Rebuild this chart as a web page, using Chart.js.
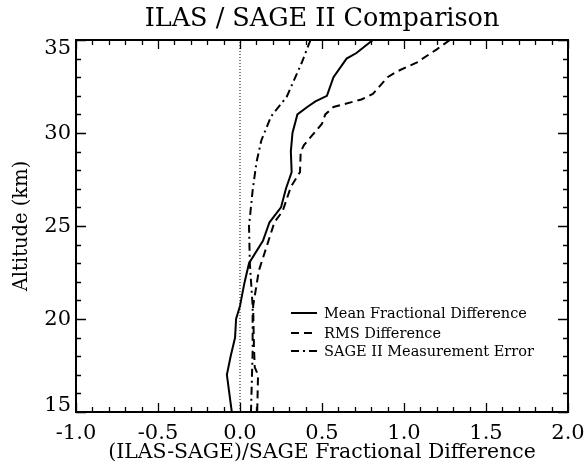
<!DOCTYPE html>
<html>
<head>
<meta charset="utf-8">
<script src="https://cdn.jsdelivr.net/npm/chart.js@4/dist/chart.umd.min.js"></script>
<style>
  body { margin: 0; background: #fff; }
  #wrap { width: 587px; height: 465px; }
</style>
</head>
<body>
<div id="wrap"><canvas id="canvasComparaison"></canvas></div>
<script>
// valeurs (altitude en km, difference fractionnelle)
const meanAlt = [35, 34.3, 34.0, 33.0, 32.0, 31.7, 31.4, 31.0, 30.0, 29.0, 27.9, 27.0, 26.0, 25.2, 24.2, 23.0, 21.9, 20.7, 20.0, 19.0, 18.0, 17.0, 15.0]
const meanDiff = [0.81, 0.71, 0.65, 0.57, 0.53, 0.46, 0.41, 0.35, 0.32, 0.31, 0.315, 0.28, 0.25, 0.18, 0.14, 0.055, 0.026, 0.0, -0.024, -0.03, -0.057, -0.08, -0.05]

const rmsAlt = [35, 34.5, 33.8, 33.3, 33.0, 32.1, 31.8, 31.4, 31.0, 30.5, 29.35, 29.0, 27.9, 27.1, 25.8, 25.2, 22.6, 20.7, 18.5, 17.4, 17.0, 15.0]
const rmsDiff = [1.28, 1.2, 1.08, 0.955, 0.90, 0.81, 0.74, 0.57, 0.52, 0.50, 0.39, 0.37, 0.366, 0.31, 0.26, 0.21, 0.115, 0.08, 0.085, 0.09, 0.11, 0.105]

const errAlt = [35, 33.75, 31.95, 30.9, 29.6, 28.4, 26.9, 25.0, 23.0, 20.7, 18.2, 15.0]
const errSage = [0.43, 0.375, 0.285, 0.19, 0.13, 0.10, 0.077, 0.055, 0.06, 0.077, 0.077, 0.067]

const zeroAlt = [15, 35]
const zeroDiff = [0, 0]

const legendLabels = ["Mean Fractional Difference", "RMS Difference", "SAGE II Measurement Error"]
const yTickLabels = [15, 20, 25, 30, 35]

const serif = "'DejaVu Serif', 'Liberation Serif', serif"

function points(alts, vals) {
    return alts.map((a, i) => ({x: vals[i], y: a}))
}

const styles = [
    {dash: [], width: 2},
    {dash: [8, 5], width: 2},
    {dash: [8, 4, 2, 4], width: 2},
]

// cadre, graduations, labels y et legende
const decorPlugin = {
    id: "decor",
    afterDraw(chart) {
        const ctx = chart.ctx
        const area = chart.chartArea
        const xs = chart.scales.x
        const ys = chart.scales.y
        ctx.save()
        ctx.strokeStyle = "#000"
        ctx.fillStyle = "#000"
        ctx.setLineDash([])

        // graduations x
        ctx.lineWidth = 1.3
        ctx.beginPath()
        for (let i = 0; i <= 30; i++) {
            let v = -1 + i * 0.1
            let px = Math.round(xs.getPixelForValue(v)) + 0.5
            let len = (i % 5 === 0) ? 9 : 5
            ctx.moveTo(px, area.bottom); ctx.lineTo(px, area.bottom - len)
            ctx.moveTo(px, area.top); ctx.lineTo(px, area.top + len)
        }
        // graduations y
        for (let a = 15; a <= 35; a++) {
            let py = Math.round(ys.getPixelForValue(a)) + 0.5
            let len = (a % 5 === 0) ? 10 : 5
            ctx.moveTo(area.left, py); ctx.lineTo(area.left + len, py)
            ctx.moveTo(area.right, py); ctx.lineTo(area.right - len, py)
        }
        ctx.stroke()

        // cadre
        ctx.lineWidth = 2
        ctx.strokeRect(area.left, area.top, area.right - area.left, area.bottom - area.top)

        // labels y
        ctx.font = "21px " + serif
        ctx.textAlign = "right"
        ctx.textBaseline = "middle"
        for (let t of yTickLabels) {
            let py = ys.getPixelForValue(t)
            py = Math.max(py, area.top + 8)
            py = Math.min(py, area.bottom - 7)
            ctx.fillText(String(t), area.left - 5, py + 1)
        }

        // legende
        ctx.font = "14.5px " + serif
        ctx.textAlign = "left"
        const rows = [area.bottom - 99, area.bottom - 79, area.bottom - 61]
        for (let i = 0; i < legendLabels.length; i++) {
            ctx.lineWidth = styles[i].width
            ctx.setLineDash(styles[i].dash)
            ctx.beginPath()
            ctx.moveTo(area.left + 215, rows[i])
            ctx.lineTo(area.left + 241, rows[i])
            ctx.stroke()
            ctx.setLineDash([])
            ctx.fillText(legendLabels[i], area.left + 248, rows[i] + 1)
        }
        ctx.restore()
    }
}

function serie(data, i) {
    return {
        data: data,
        showLine: true,
        borderColor: "#000",
        borderWidth: styles[i].width,
        borderDash: styles[i].dash,
        pointRadius: 0,
        fill: false,
        tension: 0,
    }
}

new Chart(document.getElementById("canvasComparaison"), {
    type: "scatter",
    data: {
        datasets: [
            {
                data: points(zeroAlt, zeroDiff),
                showLine: true,
                borderColor: "#000",
                borderWidth: 1,
                borderDash: [1, 2],
                pointRadius: 0,
            },
            serie(points(meanAlt, meanDiff), 0),
            serie(points(rmsAlt, rmsDiff), 1),
            serie(points(errAlt, errSage), 2),
        ]
    },
    options: {
        responsive: true,
        maintainAspectRatio: false,
        animation: false,
        layout: { padding: { top: 0, right: 19, bottom: 0, left: 0 } },
        plugins: {
            legend: { display: false },
            tooltip: { enabled: false },
            title: {
                display: true,
                text: "ILAS / SAGE II Comparison",
                fullSize: false,
                color: "#000",
                font: { family: serif, size: 25.5, weight: "normal" },
                padding: { top: 4, bottom: 5.4 },
            },
        },
        scales: {
            x: {
                type: "linear",
                min: -1,
                max: 2,
                grid: { display: false, drawTicks: false },
                border: { display: false },
                ticks: {
                    stepSize: 0.5,
                    color: "#000",
                    padding: 9,
                    font: { family: serif, size: 21 },
                    callback: (v) => v.toFixed(1),
                },
                title: {
                    display: true,
                    text: "(ILAS-SAGE)/SAGE Fractional Difference",
                    color: "#000",
                    font: { family: serif, size: 20.4 },
                    padding: { top: 0, bottom: 0 },
                },
                afterFit: (scale) => {
                    scale.height = 53
                    scale.paddingLeft = 0
                    scale.paddingRight = 0
                },
            },
            y: {
                type: "linear",
                min: 15,
                max: 35,
                grid: { display: false, drawTicks: false },
                border: { display: false },
                ticks: { display: false },
                title: {
                    display: true,
                    text: "Altitude (km)",
                    color: "#000",
                    font: { family: serif, size: 19.5 },
                    padding: { top: 10, bottom: 0 },
                },
                afterFit: (scale) => { scale.width = 76 },
            },
        },
    },
    plugins: [decorPlugin],
})
</script>
</body>
</html>
